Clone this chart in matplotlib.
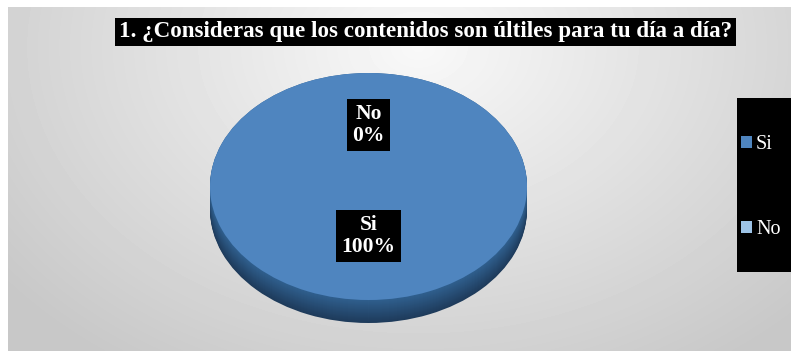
import numpy as np
import matplotlib
matplotlib.use('Agg')
import matplotlib.pyplot as plt
import matplotlib.transforms as mtransforms
from matplotlib.patches import Rectangle

title = '1. ¿Consideras que los contenidos son últiles para tu día a día?'
categories = ['Si', 'No']
values = [100, 0]
colors = ['#4F85BF', '#9DC3E6']
side_colors = ['#1E3B5B', '#30608F']

W, H = 791, 351
fig = plt.figure(figsize=(W / 100, H / 100), dpi=100)
fig.patch.set_facecolor('white')

# gray radial background of the chart area
bg = fig.add_axes([8 / W, 0, (W - 8) / W, (H - 7) / H])
bg.set_axis_off()
yy, xx = np.mgrid[0:344, 0:783]
d = np.sqrt(((xx - 410) / 520) ** 2 + ((yy - 40) / 380) ** 2)
shade = 0.975 - 0.19 * np.clip(d, 0, 1)
bg.imshow(shade, cmap='gray', vmin=0, vmax=1, aspect='auto', interpolation='bilinear')

# pie (3D look: stacked darker copies below the top face)
ax = fig.add_axes([210 / W, (H - 323) / H, 317 / W, 250 / H])
depth = 23 / 113.5
offs = np.linspace(depth, 0, 24)
c0 = np.array(matplotlib.colors.to_rgb(side_colors[0]))
c1 = np.array(matplotlib.colors.to_rgb(side_colors[1]))
for i, off in enumerate(offs):
    f = i / (len(offs) - 1)
    c = c0 * (1 - f) + c1 * f
    ax.pie(values, colors=[c, c], startangle=90, counterclock=False,
           center=(0, -off), wedgeprops=dict(linewidth=0))

labels = [f'{c}\n{v:.0f}%' for c, v in zip(categories, values)]
wedges, texts = ax.pie(values, colors=colors, labels=labels, labeldistance=0.49,
                       startangle=90, counterclock=False,
                       wedgeprops=dict(linewidth=0),
                       textprops=dict(color='white', fontsize=15.5, fontweight='bold',
                                      family='Liberation Serif', ha='center', va='center',
                                      multialignment='center', linespacing=1.1,
                                      bbox=dict(facecolor='black', edgecolor='none',
                                                boxstyle='square,pad=0.25')))
shift = mtransforms.ScaledTranslation(0, 6 / 100, fig.dpi_scale_trans)
for t in texts:
    t.set_transform(ax.transData + shift)
ax.set_aspect('auto')
ax.set_xlim(-1, 1)
ax.set_ylim(-1 - depth, 1)
ax.set_axis_off()

# title
fig.text(425.5 / W, 1 - 32 / H, title, ha='center', va='center', color='white',
         fontsize=16.6, fontweight='bold', family='Liberation Serif',
         bbox=dict(facecolor='black', edgecolor='none', boxstyle='square,pad=0.15'))

# legend on black panel
fig.add_artist(Rectangle((737 / W, 1 - 272 / H), 54 / W, 174 / H,
                         transform=fig.transFigure, facecolor='black', edgecolor='none'))
fig.legend(wedges, categories, loc='center left', bbox_to_anchor=(741 / W, 1 - 187 / H),
           frameon=False, prop=dict(family='Liberation Serif', size=14.5), labelcolor='white',
           handlelength=0.55, handleheight=0.55, handletextpad=0.2, labelspacing=3.3,
           borderpad=0, borderaxespad=0)

fig.savefig('out.png', dpi=100)
